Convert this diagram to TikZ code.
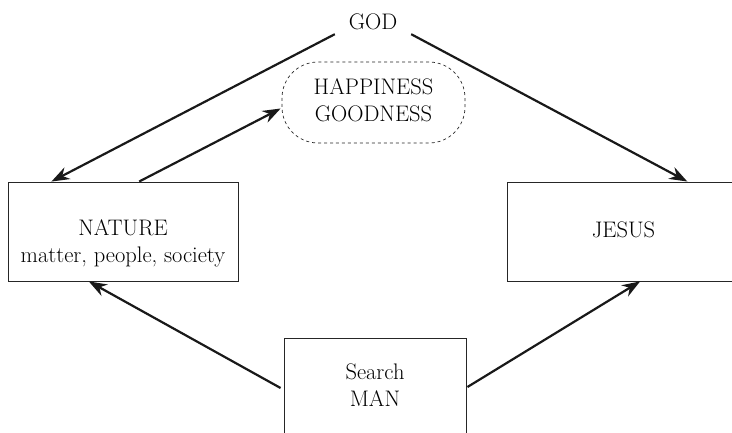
\documentclass[tikz,border=0pt]{standalone}
\usetikzlibrary{arrows.meta,calc}
\begin{document}
\begin{tikzpicture}[x=1bp,y=-1bp,
  box/.style={draw=black!85,line width=0.9bp,inner sep=0pt},
  txt/.style={align=center,font=\fontsize{22.5bp}{27bp}\selectfont,inner sep=0pt},
  arr/.style={line width=2.2bp,black!90,-{Stealth[length=18bp,width=13bp]}},
  cloud/.style={draw=black!85,dashed,line width=0.7bp,rounded corners=36bp,inner sep=0pt}]
\useasboundingbox (0,0) rectangle (732,433);
\node[txt,minimum width=76bp,minimum height=24bp] (god) at (373,22) {GOD};
\node[cloud,minimum width=183bp,minimum height=81bp] (happy) at (373.5,102.5) {};
\node[txt] (happytext) at (373.5,100) {HAPPINESS\\GOODNESS};
\node[box,minimum width=230bp,minimum height=99bp] (nature) at (123,231.5) {};
\node[txt] (naturetext) at (123,243) {NATURE\\matter, people, society};
\node[box,minimum width=233bp,minimum height=99bp] (jesus) at (623.5,231.5) {};
\node[txt] (jesustext) at (623.5,230) {JESUS};
\node[box,minimum width=182bp,minimum height=104bp] (man) at (375,390) {};
\node[txt] (mantext) at (375,385) {Search\\MAN};
\draw[arr] (god.south west) -- ($(nature.north west)!0.19!(nature.north east)$);
\draw[arr] (god.south east) -- ($(jesus.north west)!0.773!(jesus.north east)$);
\draw[arr] ($(nature.north west)!0.57!(nature.north east)$) -- ($(happy.west)+(-1,6)$);
\draw[arr] ($(man.west)+(-3,-2)$) -- ($(nature.south west)!0.352!(nature.south east)$);
\draw[arr] ($(man.east)+(1,-3)$) -- ($(jesus.south west)!0.571!(jesus.south east)$);
\end{tikzpicture}
\end{document}
